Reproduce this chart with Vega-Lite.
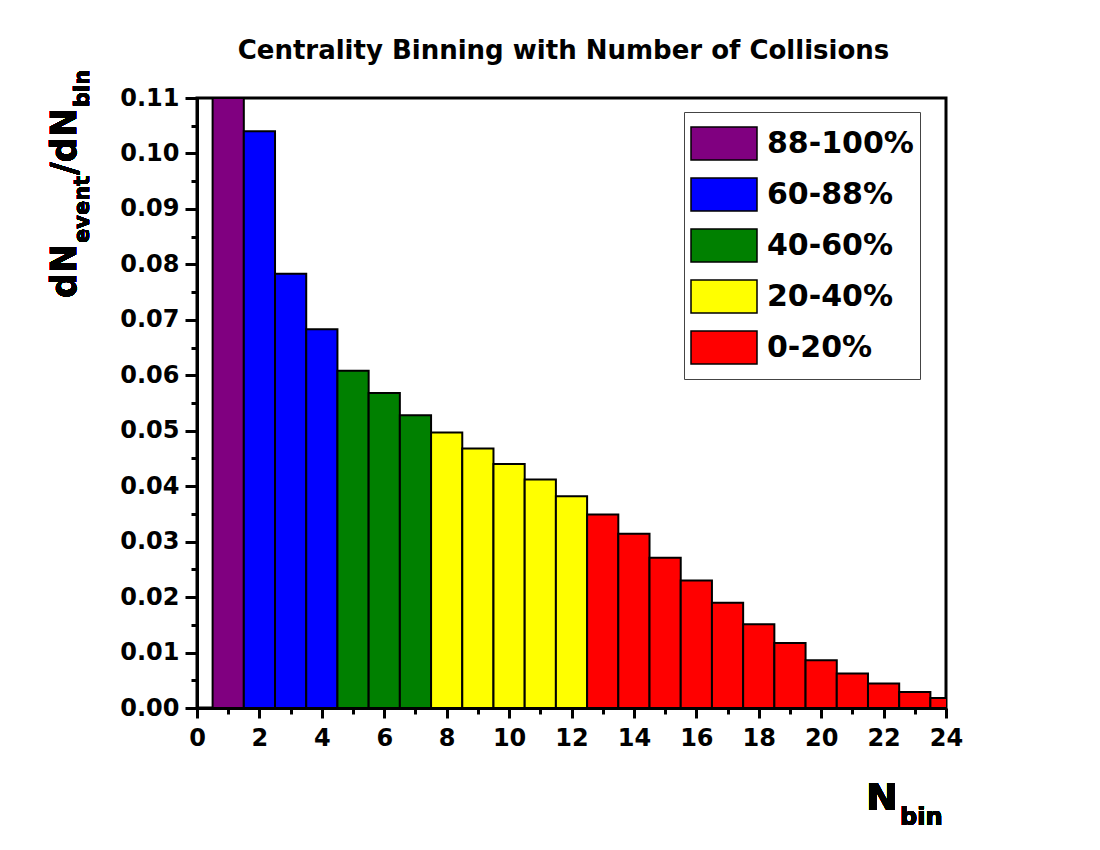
{
  "$schema": "https://vega.github.io/schema/vega-lite/v6.json",
  "autosize": "none",
  "width": 749,
  "height": 610,
  "padding": {"left": 197, "top": 98, "right": 154, "bottom": 142},
  "background": "white",
  "title": {
    "text": "Centrality Binning with Number of Collisions",
    "font": "DejaVu Sans",
    "fontSize": 26,
    "fontWeight": "bold",
    "color": "black",
    "anchor": "middle",
    "offset": 6,
    "dx": -8
  },
  "config": {
    "view": {"stroke": "black", "strokeWidth": 3},
    "axis": {
      "grid": false,
      "domainColor": "black",
      "domainWidth": 3,
      "tickColor": "black",
      "tickWidth": 3,
      "labelFont": "DejaVu Sans",
      "labelFontWeight": "bold",
      "labelFontSize": 24,
      "labelColor": "black"
    }
  },
  "data": {
    "values": [
      {"n": 1, "bin_start": 0.5, "bin_end": 1.5, "value": 0.11, "centrality": "88-100%"},
      {"n": 2, "bin_start": 1.5, "bin_end": 2.5, "value": 0.1040, "centrality": "60-88%"},
      {"n": 3, "bin_start": 2.5, "bin_end": 3.5, "value": 0.0783, "centrality": "60-88%"},
      {"n": 4, "bin_start": 3.5, "bin_end": 4.5, "value": 0.0683, "centrality": "60-88%"},
      {"n": 5, "bin_start": 4.5, "bin_end": 5.5, "value": 0.0608, "centrality": "40-60%"},
      {"n": 6, "bin_start": 5.5, "bin_end": 6.5, "value": 0.0568, "centrality": "40-60%"},
      {"n": 7, "bin_start": 6.5, "bin_end": 7.5, "value": 0.0528, "centrality": "40-60%"},
      {"n": 8, "bin_start": 7.5, "bin_end": 8.5, "value": 0.0497, "centrality": "20-40%"},
      {"n": 9, "bin_start": 8.5, "bin_end": 9.5, "value": 0.0468, "centrality": "20-40%"},
      {"n": 10, "bin_start": 9.5, "bin_end": 10.5, "value": 0.0440, "centrality": "20-40%"},
      {"n": 11, "bin_start": 10.5, "bin_end": 11.5, "value": 0.0412, "centrality": "20-40%"},
      {"n": 12, "bin_start": 11.5, "bin_end": 12.5, "value": 0.0382, "centrality": "20-40%"},
      {"n": 13, "bin_start": 12.5, "bin_end": 13.5, "value": 0.0349, "centrality": "0-20%"},
      {"n": 14, "bin_start": 13.5, "bin_end": 14.5, "value": 0.0314, "centrality": "0-20%"},
      {"n": 15, "bin_start": 14.5, "bin_end": 15.5, "value": 0.0271, "centrality": "0-20%"},
      {"n": 16, "bin_start": 15.5, "bin_end": 16.5, "value": 0.0230, "centrality": "0-20%"},
      {"n": 17, "bin_start": 16.5, "bin_end": 17.5, "value": 0.0190, "centrality": "0-20%"},
      {"n": 18, "bin_start": 17.5, "bin_end": 18.5, "value": 0.0151, "centrality": "0-20%"},
      {"n": 19, "bin_start": 18.5, "bin_end": 19.5, "value": 0.0117, "centrality": "0-20%"},
      {"n": 20, "bin_start": 19.5, "bin_end": 20.5, "value": 0.0086, "centrality": "0-20%"},
      {"n": 21, "bin_start": 20.5, "bin_end": 21.5, "value": 0.0062, "centrality": "0-20%"},
      {"n": 22, "bin_start": 21.5, "bin_end": 22.5, "value": 0.0044, "centrality": "0-20%"},
      {"n": 23, "bin_start": 22.5, "bin_end": 23.5, "value": 0.0029, "centrality": "0-20%"},
      {"n": 24, "bin_start": 23.5, "bin_end": 24.5, "value": 0.0018, "centrality": "0-20%"}
    ]
  },
  "layer": [
    {
      "mark": {"type": "bar", "stroke": "black", "strokeWidth": 2, "clip": true, "opacity": 1},
      "encoding": {
        "x": {
          "field": "bin_start", "type": "quantitative",
          "scale": {"domain": [0, 24], "nice": false, "zero": false},
          "axis": {"orient": "bottom", "values": [0, 2, 4, 6, 8, 10, 12, 14, 16, 18, 20, 22, 24], "tickSize": 10, "labelPadding": 8, "title": null, "labelFlush": false, "labelOverlap": false}
        },
        "x2": {"field": "bin_end"},
        "y": {
          "field": "value", "type": "quantitative",
          "scale": {"domain": [0, 0.11], "nice": false},
          "axis": {"orient": "left", "values": [0, 0.01, 0.02, 0.03, 0.04, 0.05, 0.06, 0.07, 0.08, 0.09, 0.10, 0.11], "format": ".2f", "tickSize": 12, "labelPadding": 6, "title": null, "labelFlush": false, "labelOverlap": false}
        },
        "y2": {"datum": 0},
        "fill": {
          "field": "centrality", "type": "nominal",
          "scale": {"domain": ["88-100%", "60-88%", "40-60%", "20-40%", "0-20%"], "range": ["#800080", "#0000ff", "#008000", "#ffff00", "#ff0000"]},
          "legend": {
            "orient": "none", "legendX": 487, "legendY": 14,
            "title": null,
            "symbolType": "M-1,-0.5L1,-0.5L1,0.5L-1,0.5Z",
            "symbolSize": 4356,
            "symbolStrokeColor": "black",
            "symbolStrokeWidth": 1.5,
            "symbolOpacity": 1,
            "labelFont": "DejaVu Sans",
            "labelFontWeight": "bold",
            "labelFontSize": 30,
            "labelColor": "black",
            "labelOffset": 9,
            "rowPadding": 0,
            "clipHeight": 51,
            "padding": 6,
            "strokeColor": "#444444",
            "fillColor": "white"
          }
        }
      }
    },
    {
      "mark": {"type": "bar", "opacity": 0},
      "encoding": {
        "x": {
          "field": "bin_start", "type": "quantitative",
          "axis": {"orient": "bottom", "values": [1, 3, 5, 7, 9, 11, 13, 15, 17, 19, 21, 23], "tickSize": 6, "labels": false, "domain": false, "title": null}
        },
        "x2": {"field": "bin_end"},
        "y": {
          "field": "value", "type": "quantitative",
          "axis": {"orient": "left", "values": [0.005, 0.015, 0.025, 0.035, 0.045, 0.055, 0.065, 0.075, 0.085, 0.095, 0.105], "tickSize": 6, "labels": false, "domain": false, "title": null}
        },
        "y2": {"datum": 0}
      }
    },
    {
      "mark": {"type": "text", "text": "dN", "angle": 270, "align": "left", "baseline": "alphabetic", "font": "DejaVu Sans", "fontWeight": "bold", "fontSize": 35, "color": "black"},
      "encoding": {
        "x": {"datum": -3.877, "type": "quantitative", "axis": null},
        "y": {"datum": 0.07394, "type": "quantitative", "axis": null}
      }
    },
    {
      "mark": {"type": "text", "text": "event", "angle": 270, "align": "left", "baseline": "alphabetic", "font": "DejaVu Sans", "fontWeight": "bold", "fontSize": 21, "color": "black"},
      "encoding": {
        "x": {"datum": -3.46, "type": "quantitative", "axis": null},
        "y": {"datum": 0.08386, "type": "quantitative", "axis": null}
      }
    },
    {
      "mark": {"type": "text", "text": "/dN", "angle": 270, "align": "left", "baseline": "alphabetic", "font": "DejaVu Sans", "fontWeight": "bold", "fontSize": 35, "color": "black"},
      "encoding": {
        "x": {"datum": -3.877, "type": "quantitative", "axis": null},
        "y": {"datum": 0.09612, "type": "quantitative", "axis": null}
      }
    },
    {
      "mark": {"type": "text", "text": "bin", "angle": 270, "align": "left", "baseline": "alphabetic", "font": "DejaVu Sans", "fontWeight": "bold", "fontSize": 21, "color": "black"},
      "encoding": {
        "x": {"datum": -3.46, "type": "quantitative", "axis": null},
        "y": {"datum": 0.10838, "type": "quantitative", "axis": null}
      }
    },
    {
      "mark": {"type": "text", "text": "N", "align": "left", "baseline": "alphabetic", "font": "DejaVu Sans", "fontWeight": "bold", "fontSize": 38, "color": "black"},
      "encoding": {
        "x": {"datum": 21.436, "type": "quantitative", "axis": null},
        "y": {"datum": -0.0184, "type": "quantitative", "axis": null}
      }
    },
    {
      "mark": {"type": "text", "text": "bin", "align": "left", "baseline": "alphabetic", "font": "DejaVu Sans", "fontWeight": "bold", "fontSize": 24, "color": "black"},
      "encoding": {
        "x": {"datum": 22.526, "type": "quantitative", "axis": null},
        "y": {"datum": -0.0211, "type": "quantitative", "axis": null}
      }
    }
  ],
  "resolve": {"axis": {"x": "independent", "y": "independent"}}
}
